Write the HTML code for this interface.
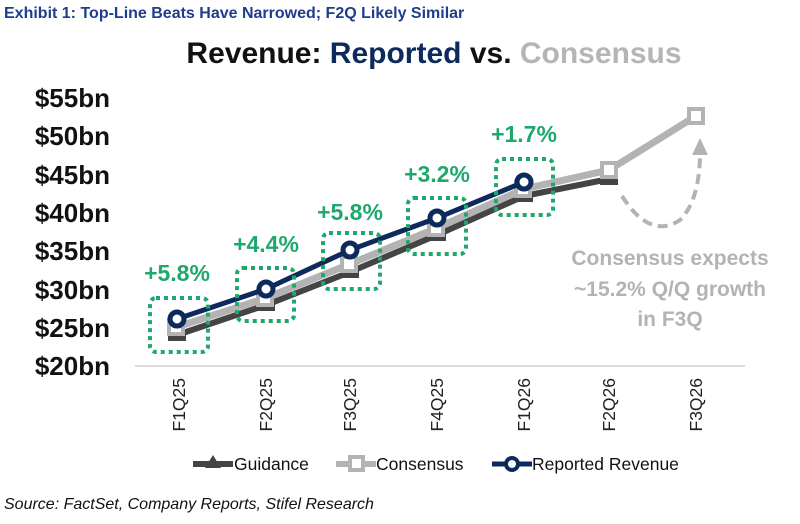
<!DOCTYPE html>
<html><head><style>
body{margin:0;background:#fff;width:800px;height:519px;overflow:hidden;font-family:"Liberation Sans",Arial,sans-serif}
</style></head><body>
<svg width="800" height="519" xmlns="http://www.w3.org/2000/svg" font-family="Liberation Sans, Arial, sans-serif">
<text x="4" y="18" font-size="16" font-weight="bold" fill="#1f3d8c">Exhibit 1: Top-Line Beats Have Narrowed; F2Q Likely Similar</text>
<text x="434" y="63" font-size="30" font-weight="bold" text-anchor="middle"><tspan fill="#111">Revenue: </tspan><tspan fill="#0d2a5c">Reported</tspan><tspan fill="#111"> vs. </tspan><tspan fill="#b5b5b5">Consensus</tspan></text>
<g font-size="26" font-weight="bold" fill="#111" text-anchor="end">
<text x="110" y="107">$55bn</text><text x="110" y="145">$50bn</text><text x="110" y="184">$45bn</text><text x="110" y="222">$40bn</text><text x="110" y="260">$35bn</text><text x="110" y="299">$30bn</text><text x="110" y="337">$25bn</text><text x="110" y="375">$20bn</text>
</g>
<line x1="135" y1="366" x2="745" y2="366" stroke="#d0d0d0" stroke-width="1.5"/>
<g font-size="17.5" fill="#222" text-anchor="end">
<text transform="translate(185,378) rotate(-90)">F1Q25</text>
<text transform="translate(272,378) rotate(-90)">F2Q25</text>
<text transform="translate(356,378) rotate(-90)">F3Q25</text>
<text transform="translate(443,378) rotate(-90)">F4Q25</text>
<text transform="translate(530,378) rotate(-90)">F1Q26</text>
<text transform="translate(615,378) rotate(-90)">F2Q26</text>
<text transform="translate(702,378) rotate(-90)">F3Q26</text>
</g>
<polyline points="177,335 266,305 350,272 437,235 524,196 609,179" fill="none" stroke="#444" stroke-width="6"/>
<g fill="#444"><rect x="168" y="334" width="18" height="7"/><rect x="257" y="304" width="18" height="7"/><rect x="341" y="271" width="18" height="7"/><rect x="428" y="234" width="18" height="7"/><rect x="515" y="195" width="18" height="7"/><rect x="600" y="178" width="18" height="7"/></g>
<polyline points="177,327 266,298 350,264 437,228 524,189 609,170 696,116" fill="none" stroke="#b3b3b3" stroke-width="7"/>
<g fill="#fff" stroke="#b3b3b3" stroke-width="4"><rect x="169" y="320" width="14" height="14"/><rect x="258" y="291" width="14" height="14"/><rect x="342" y="257" width="14" height="14"/><rect x="429" y="221" width="14" height="14"/><rect x="516" y="182" width="14" height="14"/><rect x="602" y="163" width="14" height="14"/><rect x="689" y="109" width="14" height="14"/></g>
<polyline points="177,319 266,289 350,250 437,218 524,182" fill="none" stroke="#0d2a5c" stroke-width="5"/>
<g fill="#fff" stroke="#0d2a5c" stroke-width="5"><circle cx="177" cy="319" r="7"/><circle cx="266" cy="289" r="7"/><circle cx="350" cy="250" r="7"/><circle cx="437" cy="218" r="7"/><circle cx="524" cy="182" r="7"/></g>
<g fill="none" stroke="#1fa86b" stroke-width="4" stroke-dasharray="4,4">
<rect x="150" y="298" width="58" height="54" rx="6"/>
<rect x="237" y="268" width="57" height="53" rx="6"/>
<rect x="323" y="233" width="57" height="56" rx="6"/>
<rect x="408" y="198" width="58" height="56" rx="6"/>
<rect x="496" y="159" width="57" height="56" rx="6"/>
</g>
<g font-size="23" font-weight="bold" fill="#1fa86b" text-anchor="middle">
<text x="177" y="281">+5.8%</text><text x="266" y="252">+4.4%</text><text x="350" y="220">+5.8%</text><text x="437" y="182">+3.2%</text><text x="524" y="142">+1.7%</text>
</g>
<path d="M622,196 Q650,240 680,220 Q700,200 700,152" fill="none" stroke="#b3b3b3" stroke-width="4" stroke-dasharray="10,6"/>
<polygon points="700,138 692,155 708,155" fill="#b3b3b3"/>
<g font-size="21" font-weight="bold" fill="#b3b3b3" text-anchor="middle">
<text x="670" y="265">Consensus expects</text><text x="670" y="296">~15.2% Q/Q growth</text><text x="670" y="326">in F3Q</text>
</g>
<line x1="193" y1="464" x2="233" y2="464" stroke="#444" stroke-width="6"/><polygon points="213,455 205,468 221,468" fill="#444"/>
<text x="234" y="470" font-size="17.5" fill="#111">Guidance</text>
<line x1="336" y1="464" x2="376" y2="464" stroke="#b3b3b3" stroke-width="6"/><rect x="350" y="457" width="13" height="13" fill="#fff" stroke="#b3b3b3" stroke-width="4"/>
<text x="376" y="470" font-size="17.5" fill="#111">Consensus</text>
<line x1="492" y1="464" x2="532" y2="464" stroke="#0d2a5c" stroke-width="5"/><circle cx="512" cy="464" r="6" fill="#fff" stroke="#0d2a5c" stroke-width="4"/>
<text x="532" y="470" font-size="17.5" fill="#111">Reported Revenue</text>
<text x="4" y="509" font-size="16" font-style="italic" fill="#111">Source: FactSet, Company Reports, Stifel Research</text>
</svg>
</body></html>
